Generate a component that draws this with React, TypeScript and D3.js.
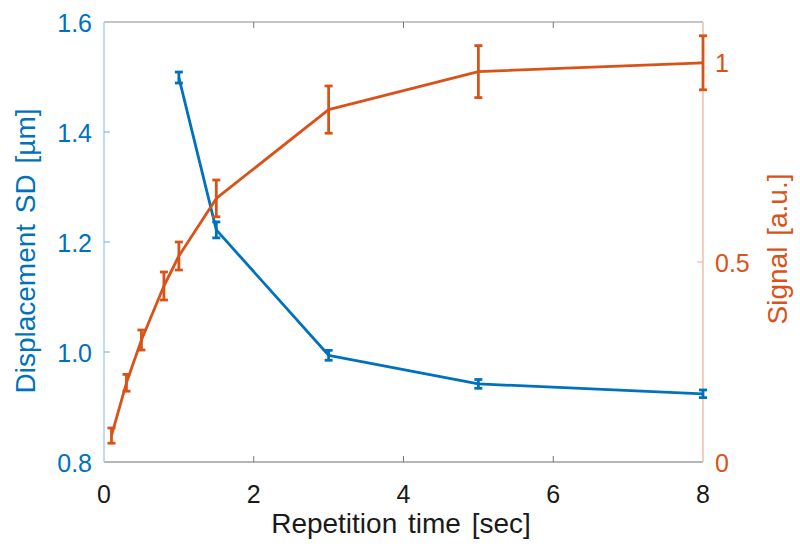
import React from "react";
import * as d3 from "d3";

const blueX = [1, 1.5, 3, 5, 8];
const blueY = [1.499, 1.222, 0.994, 0.942, 0.924];
const blueErr = [0.01, 0.0145, 0.009, 0.008, 0.007];

const orangeX = [0.1, 0.3, 0.5, 0.8, 1, 1.5, 3, 5, 8];
const orangeY = [0.066, 0.198, 0.305, 0.44, 0.515, 0.659, 0.881, 0.976, 0.998];
const orangeErr = [0.019, 0.021, 0.025, 0.035, 0.035, 0.046, 0.059, 0.065, 0.0675];

const xTicks = [0, 2, 4, 6, 8];
const leftTicks = [0.8, 1.0, 1.2, 1.4, 1.6];
const rightTicks = [0, 0.5, 1];

const W = 800;
const H = 555;
const L = 104;
const R = 703;
const T = 22;
const B = 462;

const BLUE = "#0072BD";
const ORANGE = "#D95319";
const FONT = "'Liberation Sans', Arial, Helvetica, sans-serif";

export default function App() {
  const x = d3.scaleLinear().domain([0, 8]).range([L, R]);
  const yL = d3.scaleLinear().domain([0.8, 1.6]).range([B, T]);
  const yR = d3.scaleLinear().domain([0, 1.1]).range([B, T]);

  const blueData = blueX.map((v, i) => ({ x: v, y: blueY[i], e: blueErr[i] }));
  const orangeData = orangeX.map((v, i) => ({ x: v, y: orangeY[i], e: orangeErr[i] }));

  const lineL = d3.line<{ x: number; y: number }>().x((d) => x(d.x)).y((d) => yL(d.y));
  const lineR = d3.line<{ x: number; y: number }>().x((d) => x(d.x)).y((d) => yR(d.y));

  const cap = 4;
  const tickLen = 6;

  return (
    <svg
      width={W}
      height={H}
      style={{ position: "absolute", left: 0, top: 0, background: "#fff" }}
      fontFamily={FONT}
    >
      {/* frame: top and bottom */}
      <line x1={L} x2={R} y1={T} y2={T} stroke="#8c8c8c" strokeWidth={1.2} />
      <line x1={L} x2={R} y1={B} y2={B} stroke="#6e6e6e" strokeWidth={1.2} />
      {/* left axis */}
      <line x1={L} x2={L} y1={T} y2={B} stroke="#a9d0ee" strokeWidth={1.5} />
      {/* right axis */}
      <line x1={R} x2={R} y1={T} y2={B} stroke="#f2bfa8" strokeWidth={1.5} />

      {/* x ticks */}
      {xTicks.map((t) => (
        <g key={"xt" + t}>
          {t > 0 && t < 8 && (
            <>
              <line x1={x(t)} x2={x(t)} y1={B} y2={B - tickLen} stroke="#777" strokeWidth={1} />
              <line x1={x(t)} x2={x(t)} y1={T} y2={T + tickLen} stroke="#777" strokeWidth={1} />
            </>
          )}
          <text x={x(t)} y={B + 41} textAnchor="middle" fontSize={25} fill="#1a1a1a">
            {t}
          </text>
        </g>
      ))}

      {/* left ticks */}
      {leftTicks.map((t) => (
        <g key={"lt" + t}>
          {t > 0.8 && t < 1.6 && (
            <line x1={L} x2={L + tickLen} y1={yL(t)} y2={yL(t)} stroke="#6fb0e0" strokeWidth={1} />
          )}
          <text x={L - 12} y={yL(t) + 10} textAnchor="end" fontSize={25} fill={BLUE}>
            {t.toFixed(1)}
          </text>
        </g>
      ))}

      {/* right ticks */}
      {rightTicks.map((t) => (
        <g key={"rt" + t}>
          {t > 0 && (
            <line x1={R} x2={R - tickLen} y1={yR(t)} y2={yR(t)} stroke="#eea88a" strokeWidth={1} />
          )}
          <text x={R + 12} y={yR(t) + 10} textAnchor="start" fontSize={25} fill={ORANGE}>
            {String(t)}
          </text>
        </g>
      ))}

      {/* axis titles */}
      <text
        x={401}
        y={533}
        textAnchor="middle"
        fontSize={28}
        fill="#1a1a1a"
        style={{ wordSpacing: "3px" }}
      >
        Repetition time [sec]
      </text>
      <text
        transform={`translate(35, 251) rotate(-90)`}
        textAnchor="middle"
        fontSize={28}
        fill={BLUE}
        style={{ wordSpacing: "3px" }}
      >
        Displacement SD [µm]
      </text>
      <text
        transform={`translate(787, 249) rotate(-90)`}
        textAnchor="middle"
        fontSize={28}
        fill={ORANGE}
        style={{ wordSpacing: "3px" }}
      >
        Signal [a.u.]
      </text>

      {/* blue series */}
      <path d={lineL(blueData) || ""} fill="none" stroke={BLUE} strokeWidth={2.8} strokeLinejoin="round" />
      {blueData.map((d, i) => (
        <g key={"be" + i} stroke={BLUE} strokeWidth={2.8}>
          <line x1={x(d.x)} x2={x(d.x)} y1={yL(d.y - d.e)} y2={yL(d.y + d.e)} />
          <line x1={x(d.x) - cap} x2={x(d.x) + cap} y1={yL(d.y - d.e)} y2={yL(d.y - d.e)} />
          <line x1={x(d.x) - cap} x2={x(d.x) + cap} y1={yL(d.y + d.e)} y2={yL(d.y + d.e)} />
        </g>
      ))}

      {/* orange series */}
      <path d={lineR(orangeData) || ""} fill="none" stroke={ORANGE} strokeWidth={2.8} strokeLinejoin="round" />
      {orangeData.map((d, i) => (
        <g key={"oe" + i} stroke={ORANGE} strokeWidth={2.8}>
          <line x1={x(d.x)} x2={x(d.x)} y1={yR(d.y - d.e)} y2={yR(d.y + d.e)} />
          <line x1={x(d.x) - cap} x2={x(d.x) + cap} y1={yR(d.y - d.e)} y2={yR(d.y - d.e)} />
          <line x1={x(d.x) - cap} x2={x(d.x) + cap} y1={yR(d.y + d.e)} y2={yR(d.y + d.e)} />
        </g>
      ))}
    </svg>
  );
}
